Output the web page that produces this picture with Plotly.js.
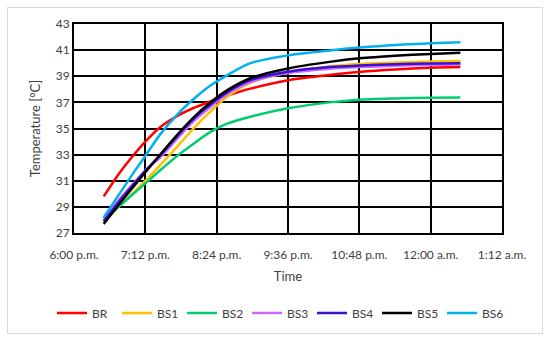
<!DOCTYPE html>
<html>
<head>
<meta charset="utf-8">
<script src="https://cdn.plot.ly/plotly-3.0.1.min.js"></script>
<style>
html,body{margin:0;padding:0;background:#fff;}
#wrap{position:relative;width:550px;height:342px;}
#chart{position:absolute;left:0;top:0;width:550px;height:342px;}
#frame{position:absolute;left:7px;top:7px;width:534px;height:325px;border:1.5px solid #d9d9d9;pointer-events:none;}
</style>
</head>
<body>
<div id="wrap"><div id="chart"></div><div id="frame"></div></div>
<script>
// minutes after 6:00 p.m.
const minutes = [30, 45, 60, 72, 87, 104, 120, 137, 154, 178, 216, 258, 288, 324, 360, 390];
const BR  = [29.8, 31.5, 32.95, 34.0, 35.1, 35.95, 36.55, 37.05, 37.5, 38.05, 38.7, 39.1, 39.33, 39.52, 39.65, 39.7];
const BS1 = [27.9, 29.0, 30.1, 31.0, 32.2, 33.6, 34.95, 36.25, 37.4, 38.5, 39.3, 39.75, 39.93, 40.05, 40.13, 40.17];
const BS2 = [27.95, 29.0, 30.0, 30.8, 31.8, 32.9, 33.8, 34.7, 35.35, 35.9, 36.55, 37.0, 37.2, 37.3, 37.36, 37.38];
const BS3 = [28.1, 29.5, 30.8, 31.8, 32.8, 34.2, 35.5, 36.6, 37.6, 38.55, 39.25, 39.57, 39.7, 39.8, 39.87, 39.9];
const BS4 = [27.9, 29.35, 30.7, 31.75, 32.95, 34.4, 35.7, 36.8, 37.75, 38.7, 39.35, 39.7, 39.82, 39.92, 39.98, 40.0];
const BS5 = [27.7, 29.15, 30.55, 31.65, 33.0, 34.5, 35.8, 36.95, 37.9, 38.85, 39.6, 40.1, 40.37, 40.57, 40.71, 40.8];
const BS6 = [28.2, 29.9, 31.6, 32.9, 34.55, 36.05, 37.2, 38.25, 39.05, 40.0, 40.6, 40.98, 41.2, 41.4, 41.52, 41.6];

const seriesNames = ["BR", "BS1", "BS2", "BS3", "BS4", "BS5", "BS6"];
const seriesValues = [BR, BS1, BS2, BS3, BS4, BS5, BS6];
const seriesColors = ["#ff0000", "#ffc000", "#00cc70", "#cc66ff", "#3a10d0", "#000000", "#00b0f0"];

const tickVals = [0, 72, 144, 216, 288, 360, 432];
const tickText = ["6:00 p.m.", "7:12 p.m.", "8:24 p.m.", "9:36 p.m.", "10:48 p.m.", "12:00 a.m.", "1:12 a.m."];

const traces = seriesNames.map((n, i) => ({
  type: "scatter",
  mode: "lines",
  name: n,
  x: minutes,
  y: seriesValues[i],
  line: {color: seriesColors[i], width: 2.5, shape: "spline", smoothing: 0.8}
}));

const fam = "Lato, 'Open Sans', sans-serif";

const layout = {
  width: 550, height: 342,
  margin: {l: 74, r: 48, t: 24, b: 109},
  paper_bgcolor: "rgba(0,0,0,0)",
  plot_bgcolor: "#ffffff",
  font: {family: fam, size: 12, color: "#404040"},
  showlegend: true,
  xaxis: {
    range: [0, 432],
    tickmode: "array", tickvals: tickVals, ticktext: tickText,
    showgrid: true, gridcolor: "#000000", gridwidth: 2,
    showline: true, linecolor: "#000000", linewidth: 2, mirror: true,
    zeroline: false, ticks: "", ticklabelstandoff: 10,
    tickfont: {family: fam, size: 12, color: "#404040"},
    title: {text: "Time", font: {family: fam, size: 13, color: "#404040"}, standoff: 10}
  },
  yaxis: {
    range: [27, 43], dtick: 2, tick0: 27,
    showgrid: true, gridcolor: "#000000", gridwidth: 2,
    showline: true, linecolor: "#000000", linewidth: 2, mirror: true,
    zeroline: false, ticks: "",
    tickfont: {family: fam, size: 12, color: "#404040"},
    title: {text: "Temperature [°C]", font: {family: fam, size: 13, color: "#404040"}, standoff: 12}
  },
  legend: {
    orientation: "h",
    x: -0.0514, xanchor: "left",
    y: -0.383, yanchor: "middle",
    entrywidth: 20, entrywidthmode: "pixels",
    itemwidth: 30,
    font: {family: fam, size: 12, color: "#404040"},
    bgcolor: "rgba(0,0,0,0)"
  }
};

Plotly.newPlot("chart", traces, layout, {displayModeBar: false, staticPlot: true});
</script>
</body>
</html>
